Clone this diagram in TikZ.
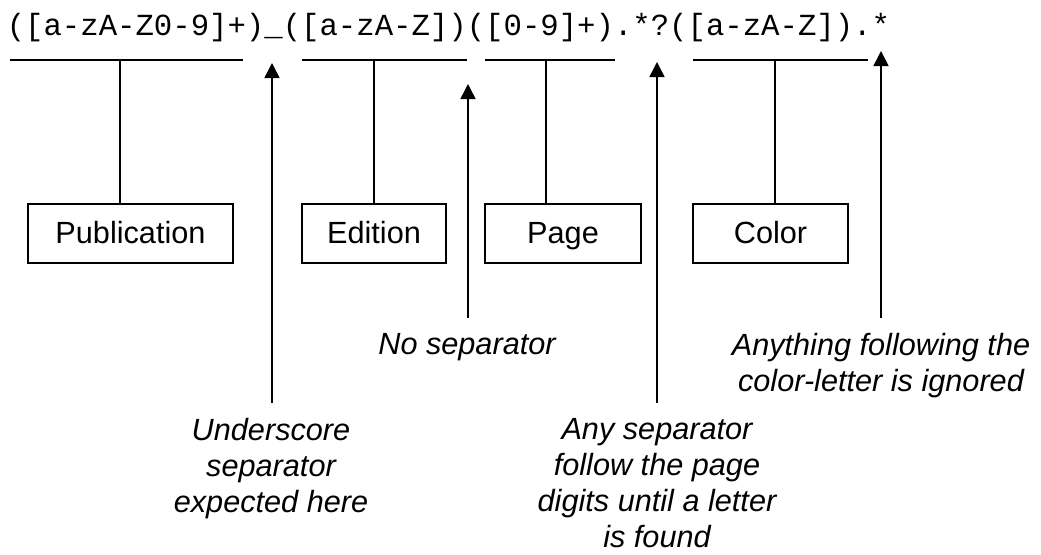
\documentclass[tikz,border=0pt]{standalone}
\usepackage{fontspec}
\setmainfont{Liberation Sans}
\newfontfamily\regexfont{Liberation Mono}
\usetikzlibrary{positioning, arrows.meta}

\begin{document}
\begin{tikzpicture}[
            x=1pt, y=-1pt,
            line width=1.5pt,
            big/.style={font=\fontsize{30.67}{36}\selectfont},
            box/.style={rectangle, draw, big, inner sep=0pt, minimum height=59pt,
                    text height=25pt, text depth=6pt},
            note/.style={big, align=center, inner sep=0pt, anchor=north,
                    font=\fontsize{30.67}{36}\selectfont\itshape},
            arrow/.style={-{Triangle[length=15pt, width=15pt]}, shorten <=15pt},
            ]

            \useasboundingbox (0,0) rectangle (1041,554);

            % regular expression
            \node[anchor=base west, inner sep=0pt, font=\fontsize{30.67}{36}\regexfont] (regex) at (6,35)
                {([a-zA-Z0-9]+)\_([a-zA-Z])([0-9]+).*?([a-zA-Z]).*};

            % groups
            \draw (10,60) -- (243,60);
            \draw (302,60) -- (467,60);
            \draw (485,60) -- (615,60);
            \draw (693,60) -- (868,60);
            \coordinate (pubbar) at (120,60);
            \coordinate (edibar) at (374,60);
            \coordinate (pagebar) at (546,60);
            \coordinate (colbar) at (775,60);

            \node[box, minimum width=205pt] (pub) at (130.5,233.5) {Publication};
            \node[box, minimum width=144pt] (edi) at (374,233.5) {Edition};
            \node[box, minimum width=156pt] (page) at (563,233.5) {Page};
            \node[box, minimum width=155pt] (col) at (770.5,233.5) {Color};

            \draw (pubbar) -- (pubbar |- pub.north);
            \draw (edibar) -- (edibar |- edi.north);
            \draw (pagebar) -- (pagebar |- page.north);
            \draw (colbar) -- (colbar |- col.north);

            % separators
            \coordinate (usep tip) at (272,63);
            \coordinate (nosep tip) at (468,84);
            \coordinate (anysep tip) at (657,62);
            \coordinate (rest tip) at (881,51);

            \node[note] (usep) at (271,418) {Underscore\\separator\\expected here};
            \node[note] (nosep) at (467,333) {No separator};
            \node[note] (anysep) at (657,418) {Any separator\\follow the page\\digits until a letter\\is found};
            \node[note] (rest) at (881,333) {Anything following the\\color-letter is ignored};

            \draw[arrow] (usep.north -| usep tip) -- (usep tip);
            \draw[arrow] (nosep.north -| nosep tip) -- (nosep tip);
            \draw[arrow] (anysep.north -| anysep tip) -- (anysep tip);
            \draw[arrow] (rest.north -| rest tip) -- (rest tip);

        \end{tikzpicture}
\end{document}
